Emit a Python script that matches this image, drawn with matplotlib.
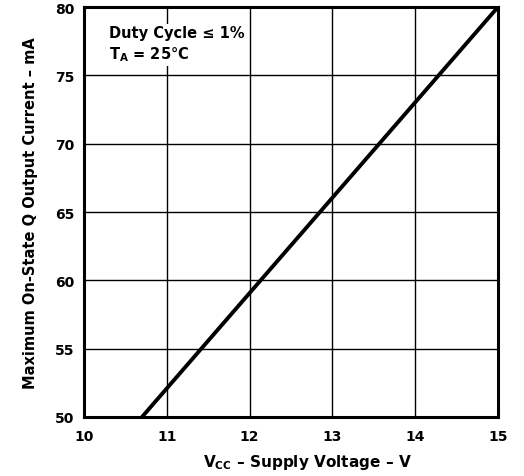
import matplotlib
matplotlib.use("Agg")
import matplotlib.pyplot as plt

plt.rcParams['font.family'] = 'DejaVu Sans'
plt.rcParams['font.weight'] = 'bold'
plt.rcParams['mathtext.fontset'] = 'custom'
plt.rcParams['mathtext.rm'] = 'DejaVu Sans:bold'
plt.rcParams['mathtext.bf'] = 'DejaVu Sans:bold'

# supply voltage (V) vs max on-state current (mA)
vcc = [10.7, 15.0]
current = [50, 80]

x_ticks = [10, 11, 12, 13, 14, 15]
y_ticks = [50, 55, 60, 65, 70, 75, 80]

fig = plt.figure(figsize=(5.24, 4.77), dpi=100)
ax = fig.add_axes([84 / 524, 1 - 418 / 477, 414 / 524, 410 / 477])

ax.plot(vcc, current, color='black', linewidth=2.8, solid_capstyle='butt', zorder=3)

ax.set_xlim(10, 15)
ax.set_ylim(50, 80)
ax.set_xticks(x_ticks)
ax.set_yticks(y_ticks)
ax.grid(True, color='black', linewidth=1.0)
ax.tick_params(axis='x', length=0, labelsize=10, pad=9)
ax.tick_params(axis='y', length=0, labelsize=10, pad=7)
for lab in ax.get_xticklabels() + ax.get_yticklabels():
    lab.set_fontweight('bold')
for s in ax.spines.values():
    s.set_linewidth(2.2)

ax.set_xlabel(r'V$_{\mathrm{CC}}$ – Supply Voltage – V', fontsize=11, fontweight='bold')
ax.xaxis.set_label_coords(0.54, -0.085)
ax.set_ylabel('Maximum On-State Q Output Current – mA', fontsize=10.5, fontweight='bold', labelpad=12)

ax.text(0.06, 0.955, 'Duty Cycle ≤ 1%\n' + r'T$_{\mathrm{A}}$ = 25°C', transform=ax.transAxes,
        fontsize=10.5, fontweight='bold', va='top', ha='left', linespacing=1.3,
        bbox=dict(facecolor='white', edgecolor='none', pad=2), zorder=4)

fig.savefig('out.png', dpi=100)
